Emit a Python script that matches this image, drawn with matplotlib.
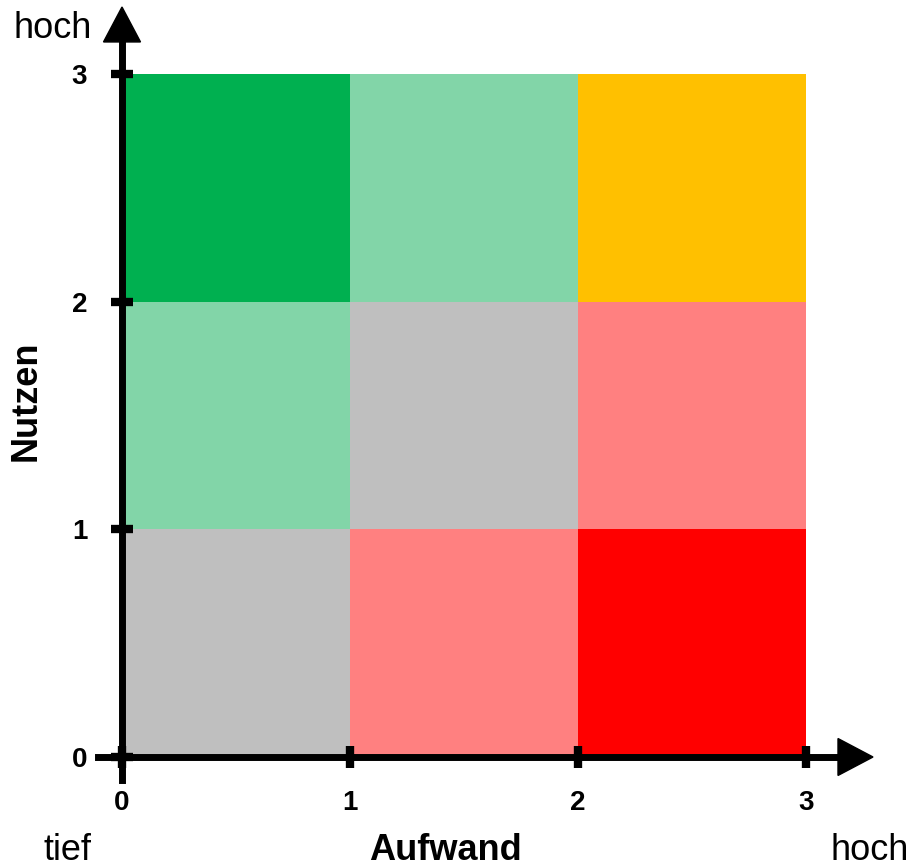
"""
Aufwand-Nutzen-Matrix (3x3) mit Pfeilachsen
"""
import matplotlib
matplotlib.use('Agg')
import matplotlib.pyplot as plt
import numpy as np
from matplotlib.colors import ListedColormap

plt.rcParams['font.family'] = ['Liberation Sans', 'DejaVu Sans']

# Daten
aufwand_kanten = [0, 1, 2, 3]
nutzen_kanten = [0, 1, 2, 3]
tick_werte = [0, 1, 2, 3]
# Zellen-Kategorie je Zeile (unten -> oben), Spalte (links -> rechts)
zellen = [
    [3, 4, 5],   # Nutzen 0-1
    [1, 3, 4],   # Nutzen 1-2
    [0, 1, 2],   # Nutzen 2-3
]
farben = ['#00B050', '#82D5A8', '#FFC000', '#BFBFBF', '#FF8080', '#FF0000']

W, H = 911, 868
fig = plt.figure(figsize=(W / 100, H / 100), dpi=100)
ax = fig.add_axes([0, 0, 1, 1])

# Pixel -> Daten
x0, x3 = 122, 806
y0, y3 = 757, 74
sx = (x3 - x0) / 3
sy = (y0 - y3) / 3
ax.set_xlim(-x0 / sx, (W - x0) / sx)
ax.set_ylim(-(H - y0) / sy, y0 / sy)

cmap = ListedColormap(farben)
ax.pcolormesh(aufwand_kanten, nutzen_kanten, np.array(zellen), cmap=cmap,
              vmin=-0.5, vmax=len(farben) - 0.5, zorder=1)

# Achsen als Spines
for s in ['top', 'right']:
    ax.spines[s].set_visible(False)
ax.spines['left'].set_position(('data', 0))
ax.spines['bottom'].set_position(('data', 0))
ax.spines['left'].set_bounds(-23 / sy, 3.2)
ax.spines['bottom'].set_bounds(-24 / sx, 3.2)
for s in ['left', 'bottom']:
    ax.spines[s].set_linewidth(5)
    ax.spines[s].set_zorder(3)

ax.set_xticks(tick_werte)
ax.set_yticks(tick_werte)
ax.tick_params(direction='inout', length=16, width=6, labelsize=20, zorder=3)
ax.tick_params(axis='x', pad=16)
ax.tick_params(axis='y', pad=17)
for lbl in ax.get_xticklabels() + ax.get_yticklabels():
    lbl.set_fontweight('bold')

# Pfeilspitzen
hw = 37 / sx
hl = 35 / sx
ax.arrow(0, 3.0, 0, (y0 - 7) / sy - 3.0, width=0.001, head_width=hw,
         head_length=hl, length_includes_head=True, color='black', zorder=4)
ax.arrow(3.0, 0, (873 - x0) / sx - 3.0, 0, width=0.001, head_width=hw,
         head_length=hl, length_includes_head=True, color='black', zorder=4)

def ftext(px, py, s, **kw):
    fig.text(px / W, 1 - py / H, s, fontsize=26, **kw)

ftext(53, 38, 'hoch', ha='center', va='baseline')
ftext(68, 860, 'tief', ha='center', va='baseline')
ftext(870, 860, 'hoch', ha='center', va='baseline')
ftext(445, 860, 'Aufwand', ha='center', va='baseline', fontweight='bold')
ftext(26, 401, 'Nutzen', ha='center', va='center', rotation=90,
      fontweight='bold')

fig.savefig('out.png', dpi=100)
